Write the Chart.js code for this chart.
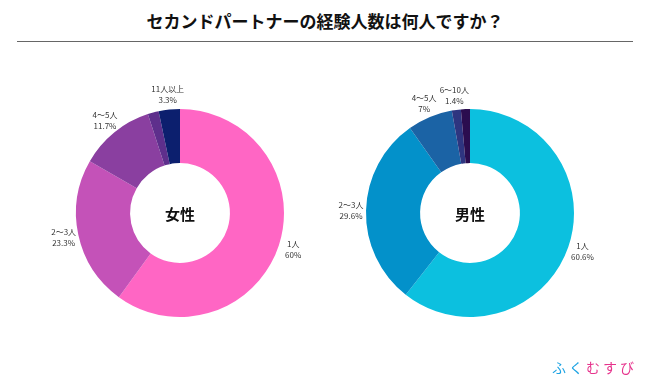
<!DOCTYPE html>
<html><head><meta charset="utf-8">
<script src="https://cdn.jsdelivr.net/npm/chart.js@4"></script>
<style>
html,body{margin:0;padding:0;background:#fff;width:650px;height:390px;overflow:hidden;font-family:"Noto Sans CJK JP",sans-serif;}
#title{position:absolute;left:0;top:8px;width:650px;text-align:center;font-size:17px;font-weight:bold;color:#111;line-height:26px;}
#rule{position:absolute;left:17px;top:41px;width:616px;height:0;border-top:1.5px solid #666;}
.box{position:absolute;width:300px;height:300px;}
#logo{position:absolute;left:552px;top:357px;font-size:14px;letter-spacing:3px;line-height:20px;}
</style></head><body>
<div id="title">セカンドパートナーの経験人数は何人ですか？</div>
<div id="rule"></div>
<div class="box" style="left:30px;top:63px;"><canvas id="c1"></canvas></div>
<div class="box" style="left:320px;top:63px;"><canvas id="c2"></canvas></div>
<div id="logo"><span style="color:#1CA3E3">ふく</span><span style="color:#E6338C">むすび</span></div>
<script>
const categories = ["1人", "2～3人", "4～5人", "6～10人", "11人以上"];
const femaleValues = [60, 23.3, 11.7, 1.7, 3.3];
const maleValues = [60.6, 29.6, 7, 1.4, 1.4];
const femaleShown = [true, true, true, false, true];
const maleShown = [true, true, true, true, false];
const femaleColors = ["#FF66C4", "#C452B8", "#8A3FA0", "#5E2F8C", "#0C1F6E"];
const maleColors = ["#0CC0DF", "#0391CA", "#1B63A5", "#2E3580", "#2B0D4F"];

const labelPlugin = {
  id: 'outLabels',
  afterDatasetsDraw(chart) {
    const ctx = chart.ctx;
    const meta = chart.getDatasetMeta(0);
    const ds = chart.data.datasets[0];
    const shown = chart.options.plugins.outLabels.shown;
    ctx.save();
    ctx.font = '8px "Noto Sans CJK JP", sans-serif';
    ctx.fillStyle = '#333';
    ctx.textAlign = 'center';
    ctx.textBaseline = 'middle';
    meta.data.forEach((arc, i) => {
      if (!shown[i]) return;
      const mid = (arc.startAngle + arc.endAngle) / 2;
      const r = arc.outerRadius + 15;
      const x = arc.x + Math.cos(mid) * r;
      const y = arc.y + Math.sin(mid) * r;
      ctx.fillText(chart.data.labels[i], x, y - 5.5);
      ctx.fillText(ds.data[i] + '%', x, y + 5.5);
    });
    ctx.font = 'bold 15px "Noto Sans CJK JP", sans-serif';
    ctx.fillStyle = '#111';
    const a = meta.data[0];
    ctx.fillText(chart.options.plugins.outLabels.center, a.x, a.y + 1);
    ctx.restore();
  }
};

function makeChart(id, values, colors, shown, center) {
  return new Chart(document.getElementById(id), {
    type: 'doughnut',
    data: { labels: categories, datasets: [{ data: values, backgroundColor: colors, borderWidth: 0 }] },
    options: {
      responsive: true, maintainAspectRatio: false, animation: false,
      radius: 104, cutout: '48%',
      plugins: { legend: { display: false }, tooltip: { enabled: false },
        outLabels: { shown: shown, center: center } }
    },
    plugins: [labelPlugin]
  });
}
makeChart('c1', femaleValues, femaleColors, femaleShown, '女性');
makeChart('c2', maleValues, maleColors, maleShown, '男性');
</script>
</body></html>
